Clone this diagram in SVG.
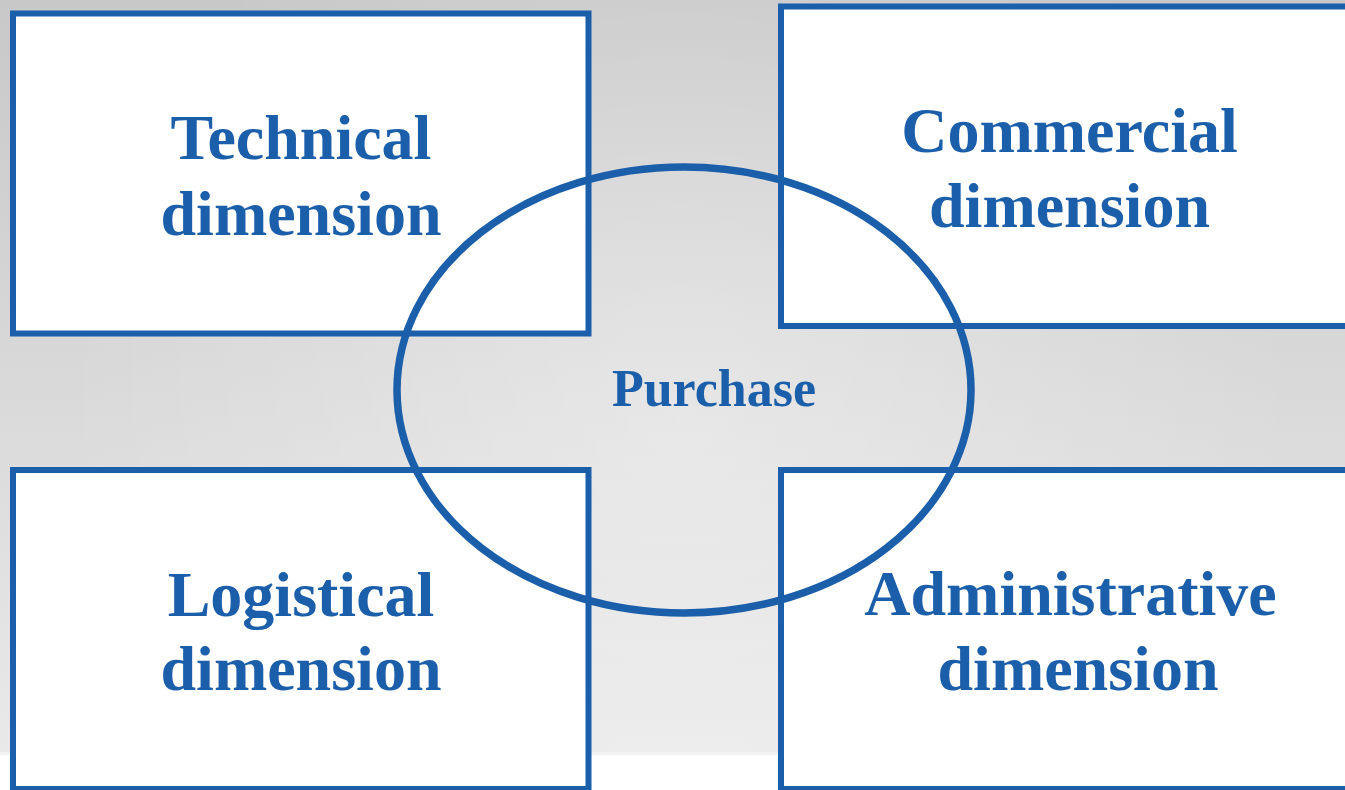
<svg xmlns="http://www.w3.org/2000/svg" width="1345" height="790" viewBox="0 0 1345 790">
<style>
.box{fill:#ffffff;stroke:#1b5eaa;stroke-width:6}
.lbl{font-family:"Liberation Serif","Times New Roman",serif;font-weight:bold;font-size:64px;fill:#1b5eaa;text-anchor:middle}
.ctr{font-family:"Liberation Serif","Times New Roman",serif;font-weight:bold;font-size:52px;fill:#1b5eaa;text-anchor:middle}
.ring{fill:none;stroke:#1b5eaa;stroke-width:7.5}
</style>
<defs>
<linearGradient id="bgv" x1="0" y1="0" x2="0" y2="1">
<stop offset="0" stop-color="#c8c8c8"/>
<stop offset="1" stop-color="#e9e9e9"/>
</linearGradient>
<radialGradient id="bgr" cx="680" cy="420" r="620" gradientUnits="userSpaceOnUse">
<stop offset="0" stop-color="#ffffff" stop-opacity="0.35"/>
<stop offset="1" stop-color="#ffffff" stop-opacity="0"/>
</radialGradient>
</defs>
<rect x="0" y="0" width="1345" height="790" fill="#ffffff"/>
<rect x="0" y="0" width="1345" height="752" fill="url(#bgv)"/>
<rect x="0" y="0" width="1345" height="752" fill="url(#bgr)"/>
<rect x="0" y="752" width="1345" height="3" fill="#f3f3f3"/>
<g id="technical">
<rect class="box" x="13" y="13.5" width="575.5" height="320"/>
</g>
<g id="commercial">
<rect class="box" x="781" y="6.5" width="600" height="319.5"/>
</g>
<g id="logistical">
<rect class="box" x="13" y="470" width="575.5" height="319"/>
</g>
<g id="administrative">
<rect class="box" x="781" y="470" width="600" height="319"/>
</g>
<g id="purchase">
<ellipse class="ring" cx="684" cy="390" rx="287" ry="223"/>
</g>
<g id="connectors"></g>
<g id="labels">
<text class="lbl" x="301" y="159">Technical</text>
<text class="lbl" x="301" y="235">dimension</text>
<text class="lbl" x="1069.5" y="152">Commercial</text>
<text class="lbl" x="1069.5" y="227">dimension</text>
<text class="lbl" x="301" y="616">Logistical</text>
<text class="lbl" x="301" y="690">dimension</text>
<text class="lbl" x="1070.5" y="615">Administrative</text>
<text class="lbl" x="1078" y="690">dimension</text>
<text class="ctr" x="714" y="406">Purchase</text>
</g>
</svg>
